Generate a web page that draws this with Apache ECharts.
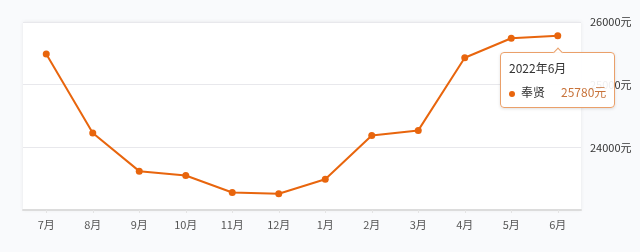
<!DOCTYPE html>
<html>
<head>
<meta charset="utf-8">
<script src="https://cdn.jsdelivr.net/npm/echarts@6/dist/echarts.min.js"></script>
<style>
html,body{margin:0;padding:0;background:#f9fafc;}
#c{width:640px;height:252px;}
</style>
</head>
<body>
<div id="c"></div>
<script>
const categories = ['7月','8月','9月','10月','11月','12月','1月','2月','3月','4月','5月','6月'];
const tooltipTitles = ['2021年7月','2021年8月','2021年9月','2021年10月','2021年11月','2021年12月','2022年1月','2022年2月','2022年3月','2022年4月','2022年5月','2022年6月'];
const seriesName = '奉贤';
const values = [25490, 24230, 23620, 23550, 23280, 23260, 23490, 24190, 24270, 25430, 25740, 25780];
const yMin = 23000, yMax = 26000, yStep = 1000;
const unit = '元';

const chart = echarts.init(document.getElementById('c'), null, {renderer:'canvas'});
const color = '#e8650d';
chart.setOption({
  backgroundColor: '#f9fafc',
  animation: false,
  grid: {
    left: 23, right: 59, top: 22, bottom: 42,
    show: true, backgroundColor: '#ffffff', borderWidth: 0,
    shadowColor: 'rgba(0,0,0,0.08)', shadowBlur: 4
  },
  tooltip: {
    trigger: 'item',
    position: 'bottom',
    alwaysShowContent: true,
    backgroundColor: 'rgba(255,255,255,0.92)',
    borderColor: '#eaa06a',
    borderWidth: 1,
    padding: [6, 8],
    extraCssText: 'border-radius:4px;margin-top:3px;box-shadow:0 1px 3px rgba(0,0,0,0.12);',
    formatter: function (p) {
      return '<div style="font-family:\'Noto Sans CJK SC\',sans-serif;font-size:12px;color:#333;line-height:18px;">' +
        tooltipTitles[p.dataIndex] + '</div>' +
        '<div style="font-family:\'Noto Sans CJK SC\',sans-serif;font-size:12px;line-height:18px;margin-top:6px;white-space:nowrap;">' +
        '<span style="display:inline-block;width:6px;height:6px;border-radius:3px;background:' + color + ';margin-right:6px;vertical-align:middle;"></span>' +
        '<span style="color:#333;">' + p.seriesName + '</span>' +
        '<span style="color:#c8733a;margin-left:16px;">' + p.value + unit + '</span></div>';
    }
  },
  xAxis: {
    type: 'category',
    data: categories,
    boundaryGap: true,
    axisLine: {lineStyle: {color: '#dcdcdc', width: 2}},
    axisTick: {show: true, alignWithLabel: true, length: 3, lineStyle: {color: '#e4e4e4'}},
    axisLabel: {color: '#555', fontSize: 11, margin: 9, fontFamily: 'Noto Sans CJK SC'}
  },
  yAxis: {
    type: 'value',
    position: 'right',
    min: yMin, max: yMax, interval: yStep,
    axisLine: {show: false},
    axisTick: {show: false},
    splitLine: {lineStyle: {color: '#e8e8ec'}},
    axisLabel: {
      color: '#333', fontSize: 11, margin: 9, fontFamily: 'Noto Sans CJK SC',
      showMinLabel: false,
      formatter: function (v) { return v + unit; }
    }
  },
  series: [{
    name: seriesName,
    type: 'line',
    data: values,
    symbol: 'circle',
    symbolSize: 7,
    itemStyle: {color: color},
    lineStyle: {color: color, width: 2}
  }]
});
setTimeout(function(){
  chart.dispatchAction({type: 'showTip', seriesIndex: 0, dataIndex: 11});
}, 50);
</script>
</body>
</html>
